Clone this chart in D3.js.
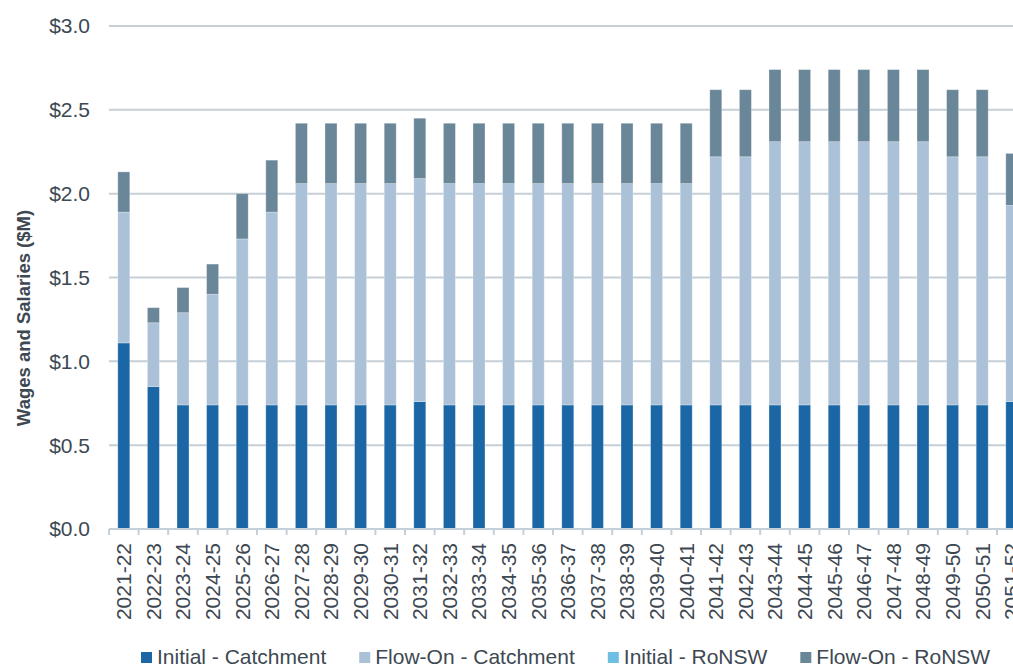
<!DOCTYPE html>
<html>
<head>
<meta charset="utf-8">
<script src="https://cdn.jsdelivr.net/npm/d3@7/dist/d3.min.js"></script>
<style>
  html, body { margin: 0; padding: 0; background: #ffffff; overflow: hidden; }
  svg { display: block; font-family: "Liberation Sans", Arial, sans-serif; }
</style>
</head>
<body>
<svg id="chart" width="1013" height="666"></svg>
<script>
// Financial years
const categories = [
  "2021-22","2022-23","2023-24","2024-25","2025-26","2026-27","2027-28","2028-29",
  "2029-30","2030-31","2031-32","2032-33","2033-34","2034-35","2035-36","2036-37",
  "2037-38","2038-39","2039-40","2040-41","2041-42","2042-43","2043-44","2044-45",
  "2045-46","2046-47","2047-48","2048-49","2049-50","2050-51","2051-52"
];

// Wages and salaries by component ($M)
const initialCatchment = [
  1.11,0.85,0.74,0.74,0.74,0.74,0.74,0.74,0.74,0.74,0.76,0.74,0.74,0.74,0.74,0.74,
  0.74,0.74,0.74,0.74,0.74,0.74,0.74,0.74,0.74,0.74,0.74,0.74,0.74,0.74,0.76
];
const flowOnCatchment = [
  0.78,0.38,0.55,0.66,0.99,1.15,1.32,1.32,1.32,1.32,1.33,1.32,1.32,1.32,1.32,1.32,
  1.32,1.32,1.32,1.32,1.48,1.48,1.57,1.57,1.57,1.57,1.57,1.57,1.48,1.48,1.17
];
const initialRoNSW = [
  0,0,0,0,0,0,0,0,0,0,0,0,0,0,0,0,
  0,0,0,0,0,0,0,0,0,0,0,0,0,0,0
];
const flowOnRoNSW = [
  0.24,0.09,0.15,0.18,0.27,0.31,0.36,0.36,0.36,0.36,0.36,0.36,0.36,0.36,0.36,0.36,
  0.36,0.36,0.36,0.36,0.40,0.40,0.43,0.43,0.43,0.43,0.43,0.43,0.40,0.40,0.31
];

const seriesNames = ["Initial - Catchment","Flow-On - Catchment","Initial - RoNSW","Flow-On - RoNSW"];
const seriesColors = ["#1b67a5","#aac1d7","#6ebde3","#6a8799"];
const yTicks = [0, 0.5, 1.0, 1.5, 2.0, 2.5, 3.0];

const textColor = "#3d4852";
const gridColor = "#c5cfd7";
const fontSize = 21;

const svg = d3.select("#chart");

const plot = { left: 109, right: 1026.6, top: 26, bottom: 529 };

const x = d3.scaleBand()
  .domain(categories)
  .range([plot.left, plot.right])
  .paddingInner(0.595)
  .paddingOuter(0.2975);

const y = d3.scaleLinear().domain([0, 3]).range([plot.bottom, plot.top]);

// Table rows for stacking
const rows = categories.map((c, i) => ({
  year: c,
  [seriesNames[0]]: initialCatchment[i],
  [seriesNames[1]]: flowOnCatchment[i],
  [seriesNames[2]]: initialRoNSW[i],
  [seriesNames[3]]: flowOnRoNSW[i]
}));
const stacked = d3.stack().keys(seriesNames)(rows);

// Horizontal gridlines (not at zero; the axis line sits there)
svg.append("g")
  .selectAll("line")
  .data(yTicks.filter(t => t > 0))
  .join("line")
  .attr("x1", plot.left)
  .attr("x2", 1013)
  .attr("y1", d => y(d))
  .attr("y2", d => y(d))
  .attr("stroke", gridColor)
  .attr("stroke-width", 2);

// Y tick labels
svg.append("g")
  .selectAll("text")
  .data(yTicks)
  .join("text")
  .attr("x", 90)
  .attr("y", d => y(d))
  .attr("dy", "0.35em")
  .attr("text-anchor", "end")
  .attr("font-size", fontSize)
  .attr("fill", textColor)
  .text(d => "$" + d.toFixed(1));

// Stacked bars
svg.append("g")
  .selectAll("g")
  .data(stacked)
  .join("g")
  .attr("fill", (d, i) => seriesColors[i])
  .selectAll("rect")
  .data(d => d)
  .join("rect")
  .attr("x", d => x(d.data.year))
  .attr("width", x.bandwidth())
  .attr("y", d => y(d[1]))
  .attr("height", d => Math.max(0, y(d[0]) - y(d[1])))
  .attr("stroke", "#ffffff")
  .attr("stroke-opacity", 0.35)
  .attr("stroke-width", 0.8);

// Category axis line and boundary ticks
const axisG = svg.append("g");
axisG.append("line")
  .attr("x1", plot.left)
  .attr("x2", 1013)
  .attr("y1", plot.bottom)
  .attr("y2", plot.bottom)
  .attr("stroke", gridColor)
  .attr("stroke-width", 2);

const boundaries = categories.map(c => x(c) + x.bandwidth() / 2 - x.step() / 2);
boundaries.push(plot.right);
axisG.selectAll("line.tick")
  .data(boundaries)
  .join("line")
  .attr("class", "tick")
  .attr("x1", d => d)
  .attr("x2", d => d)
  .attr("y1", plot.bottom)
  .attr("y2", plot.bottom + 6)
  .attr("stroke", gridColor)
  .attr("stroke-width", 2);

// Category labels, rotated
axisG.selectAll("text")
  .data(categories)
  .join("text")
  .attr("transform", d => `translate(${x(d) + x.bandwidth() / 2},543) rotate(-90)`)
  .attr("dy", "0.35em")
  .attr("text-anchor", "end")
  .attr("font-size", fontSize)
  .attr("fill", textColor)
  .text(d => d);

// Y axis title
svg.append("text")
  .attr("transform", "translate(24,318) rotate(-90)")
  .attr("dy", "0.35em")
  .attr("text-anchor", "middle")
  .attr("font-size", 18.5)
  .attr("font-weight", "bold")
  .attr("fill", textColor)
  .text("Wages and Salaries ($M)");

// Legend
const legend = svg.append("g").attr("transform", "translate(0,664)");
const items = legend.selectAll("g")
  .data(seriesNames)
  .join("g");
items.append("rect")
  .attr("y", -12)
  .attr("width", 11)
  .attr("height", 11)
  .attr("fill", (d, i) => seriesColors[i]);
items.append("text")
  .attr("x", 16)
  .attr("font-size", fontSize)
  .attr("fill", textColor)
  .text(d => d);

let cursor = 141;
items.each(function () {
  const g = d3.select(this);
  g.attr("transform", `translate(${cursor},0)`);
  const w = g.select("text").node().getComputedTextLength();
  cursor += 16 + w + 33;
});
</script>
</body>
</html>
